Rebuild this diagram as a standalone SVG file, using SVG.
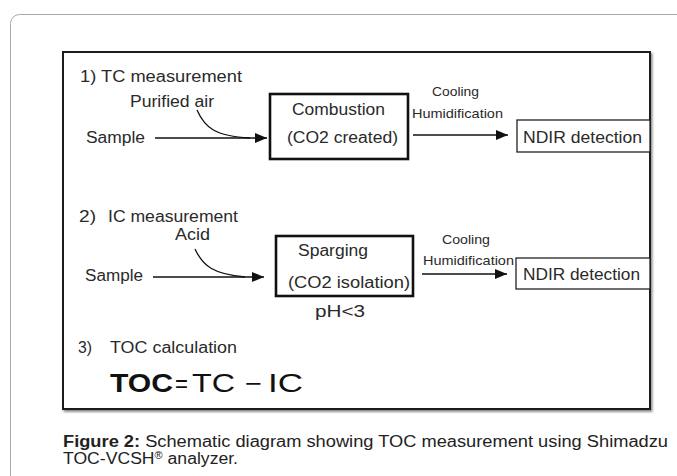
<svg xmlns="http://www.w3.org/2000/svg" width="677" height="476" viewBox="0 0 677 476">
<style>
.t{font-family:"Liberation Sans",Arial,sans-serif;fill:#2a2a2a;font-size:16px}
.s{font-size:13px}
.big{font-size:25px;fill:#111}
.ln{stroke:#111;stroke-width:1.3;fill:none}
.thick{fill:#fff;stroke:#111;stroke-width:2.6}
.thin{fill:#fff;stroke:#222;stroke-width:1.3}
.cap{font-family:"Liberation Sans Narrow","Liberation Sans",Arial,sans-serif;font-size:16px;fill:#222}
</style>
<defs>
<marker id="ah" viewBox="0 0 12 10" refX="12" refY="5" markerWidth="12" markerHeight="10" markerUnits="userSpaceOnUse" orient="auto">
<path d="M0,0 L12,5 L0,10 z" fill="#111"/>
</marker>
<filter id="sh" x="-5%" y="-5%" width="110%" height="110%">
<feDropShadow dx="1.5" dy="2" stdDeviation="1.2" flood-color="#000" flood-opacity="0.45"/>
</filter>
</defs>
<rect width="677" height="476" fill="#fff"/>
<rect x="10.5" y="14.5" width="720" height="520" rx="9" fill="#fff" stroke="#a8a8a8" stroke-width="1"/>
<rect id="frame" x="63" y="52" width="587" height="357" fill="#fff" stroke="#1a1a1a" stroke-width="2" filter="url(#sh)"/>

<g id="connectors">
<line class="ln" x1="155" y1="138" x2="267" y2="138" marker-end="url(#ah)"/>
<path class="ln" d="M197,110 C205,128 215,136 250,138"/>
<line class="ln" x1="413" y1="135" x2="508" y2="135" marker-end="url(#ah)"/>
<line class="ln" x1="153" y1="277" x2="264" y2="277" marker-end="url(#ah)"/>
<path class="ln" d="M195,249 C203,266 213,274 245,277"/>
<line class="ln" x1="422" y1="274" x2="507" y2="274" marker-end="url(#ah)"/>
</g>

<g id="label-tc">
<text class="t" x="80" y="82" textLength="162" lengthAdjust="spacingAndGlyphs">1) TC measurement</text>
<text class="t" x="130" y="107" textLength="84" lengthAdjust="spacingAndGlyphs">Purified air</text>
<text class="t" x="86" y="143" textLength="59" lengthAdjust="spacingAndGlyphs">Sample</text>
</g>
<g id="combustion">
<rect class="thick" x="270" y="94" width="138" height="65"/>
<text class="t" x="292" y="115" textLength="93" lengthAdjust="spacingAndGlyphs">Combustion</text>
<text class="t" x="287" y="143" textLength="111" lengthAdjust="spacingAndGlyphs">(CO2 created)</text>
</g>
<g id="cool1">
<text class="t s" x="432" y="96" textLength="47" lengthAdjust="spacingAndGlyphs">Cooling</text>
<text class="t s" x="412" y="118" textLength="91" lengthAdjust="spacingAndGlyphs">Humidification</text>
</g>
<g id="ndir1">
<rect class="thin" x="517" y="120" width="133" height="32"/>
<text class="t" x="523" y="143" textLength="119" lengthAdjust="spacingAndGlyphs">NDIR detection</text>
</g>

<g id="label-ic">
<text class="t" x="79" y="222" textLength="17" lengthAdjust="spacingAndGlyphs">2)</text>
<text class="t" x="108" y="222" textLength="130" lengthAdjust="spacingAndGlyphs">IC measurement</text>
<text class="t" x="175" y="240" textLength="35" lengthAdjust="spacingAndGlyphs">Acid</text>
<text class="t" x="85" y="281" textLength="58" lengthAdjust="spacingAndGlyphs">Sample</text>
</g>
<g id="sparging">
<rect class="thick" x="276" y="236" width="137" height="60"/>
<text class="t" x="298" y="256" textLength="70" lengthAdjust="spacingAndGlyphs">Sparging</text>
<text class="t" x="288" y="288" textLength="122" lengthAdjust="spacingAndGlyphs">(CO2 isolation)</text>
<text class="t" x="315" y="317" textLength="50" lengthAdjust="spacingAndGlyphs">pH&lt;3</text>
</g>
<g id="cool2">
<text class="t s" x="442" y="244" textLength="48" lengthAdjust="spacingAndGlyphs">Cooling</text>
<text class="t s" x="423" y="265" textLength="91" lengthAdjust="spacingAndGlyphs">Humidification</text>
</g>
<g id="ndir2">
<rect class="thin" x="516" y="258" width="134" height="31"/>
<text class="t" x="523" y="280" textLength="117" lengthAdjust="spacingAndGlyphs">NDIR detection</text>
</g>

<g id="label-toc">
<text class="t" x="78" y="353" textLength="14" lengthAdjust="spacingAndGlyphs">3)</text>
<text class="t" x="110" y="353" textLength="127" lengthAdjust="spacingAndGlyphs">TOC calculation</text>
<text class="t big" x="110" y="392" font-weight="bold" textLength="63" lengthAdjust="spacingAndGlyphs">TOC</text>
<text class="t big" x="175" y="392" textLength="13" lengthAdjust="spacingAndGlyphs">=</text>
<text class="t big" x="192" y="392" textLength="43" lengthAdjust="spacingAndGlyphs">TC</text>
<text class="t big" x="245" y="392" textLength="17" lengthAdjust="spacingAndGlyphs">−</text>
<text class="t big" x="268" y="392" textLength="35" lengthAdjust="spacingAndGlyphs">IC</text>
</g>

<g id="caption">
<text class="cap" x="63" y="447" textLength="605" lengthAdjust="spacingAndGlyphs"><tspan font-weight="bold">Figure 2:</tspan>  Schematic diagram showing TOC measurement using Shimadzu</text>
<text class="cap" x="63" y="464" textLength="175" lengthAdjust="spacingAndGlyphs">TOC-VCSH<tspan font-size="10" dy="-5">®</tspan><tspan dy="5"> analyzer.</tspan></text>
</g>
</svg>
